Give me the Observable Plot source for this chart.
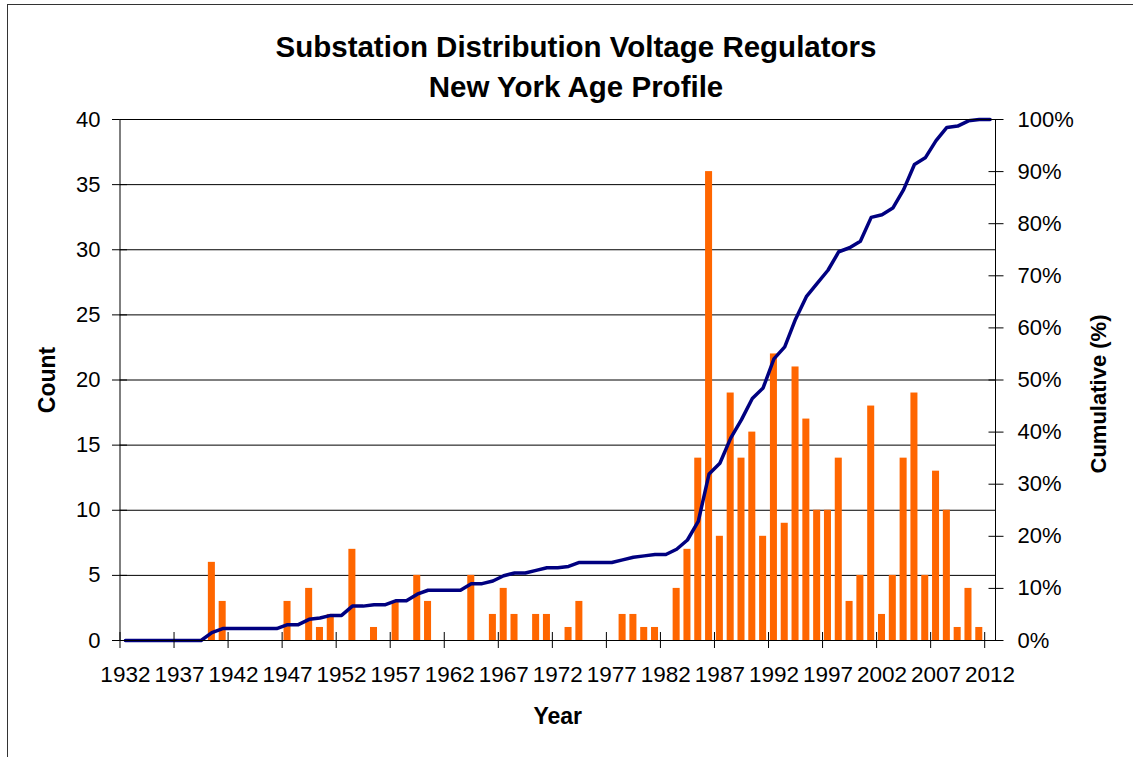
<!DOCTYPE html>
<html><head><meta charset="utf-8">
<script src="https://cdn.jsdelivr.net/npm/d3@7"></script>
<script src="https://cdn.jsdelivr.net/npm/@observablehq/plot@0.6"></script>
<style>
body{margin:0;background:#fff;}
#wrap{position:relative;width:1133px;height:757px;overflow:hidden;font-family:"Liberation Sans",Arial,sans-serif;}
#border{position:absolute;left:7px;top:4px;width:1300px;height:900px;border-top:1.5px solid #333;border-left:1.5px solid #333;}
#title{position:relative;height:105px;box-sizing:border-box;padding-top:27px;padding-left:19px;text-align:center;font-weight:bold;font-size:29.5px;line-height:40px;color:#000;}
#chart{position:relative;height:652px;}
</style></head><body>
<div id="wrap"><div id="border"></div>
<div id="title"><div>Substation Distribution Voltage Regulators</div><div>New York Age Profile</div></div>
<div id="chart"></div></div>
<script>
const years = [1932,1933,1934,1935,1936,1937,1938,1939,1940,1941,1942,1943,1944,1945,1946,1947,1948,1949,
1950,1951,1952,1953,1954,1955,1956,1957,1958,1959,1960,1961,1962,1963,1964,1965,1966,1967,1968,1969,
1970,1971,1972,1973,1974,1975,1976,1977,1978,1979,1980,1981,1982,1983,1984,1985,1986,1987,1988,1989,
1990,1991,1992,1993,1994,1995,1996,1997,1998,1999,2000,2001,2002,2003,2004,2005,2006,2007,2008,2009,
2010,2011,2012];
const counts = [0,0,0,0,0,0,0,0,6,3,0,0,0,0,0,3,0,4,
1,2,0,7,0,1,0,3,0,5,3,0,0,0,5,0,2,4,2,0,
2,2,0,1,3,0,0,0,2,2,1,1,0,4,7,14,36,8,19,14,
16,8,22,9,21,17,10,10,14,3,5,18,2,5,14,19,5,13,10,1,
4,1,0];
const countTicks = [0,5,10,15,20,25,30,35,40];
const pctTicks = [0,10,20,30,40,50,60,70,80,90,100];
const pctLabels = ["0%","10%","20%","30%","40%","50%","60%","70%","80%","90%","100%"];
const labelYears = [1932,1937,1942,1947,1952,1957,1962,1967,1972,1977,1982,1987,1992,1997,2002,2007,2012];

const W = 1133, H = 652, mL = 119.5, mR = 138, mT = 14, mB = 117;
const step = (W - mL - mR) / years.length;
const countMax = countTicks[countTicks.length - 1];
const total = d3.sum(counts);
const data = years.map((y, i) => ({year: y, count: counts[i]}));
let run = 0;
const cum = data.map(d => ({year: d.year, pct: (run += d.count) / total * 100}));
const pctToCount = p => p / 100 * countMax;
const pctLabelMap = new Map(pctTicks.map((p, i) => [pctToCount(p), pctLabels[i]]));
const font = "'Liberation Sans', Arial, sans-serif";

const chart = Plot.plot({
  width: W, height: H, marginLeft: mL, marginRight: mR, marginTop: mT, marginBottom: mB,
  style: {fontFamily: font, fontSize: "22px", color: "#000", background: "transparent", overflow: "visible"},
  x: {type: "band", domain: years, paddingInner: 0.35, paddingOuter: 0.175, axis: null},
  y: {domain: [0, countMax], axis: null},
  marks: [
    Plot.ruleY(countTicks, {stroke: "#000", strokeWidth: 1}),
    Plot.barY(data.filter(d => d.count > 0), {x: "year", y: "count", fill: "#FF6600"}),
    Plot.lineY(cum, {x: "year", y: d => pctToCount(d.pct), stroke: "#000080", strokeWidth: 3.5, strokeLinejoin: "round"}),
    Plot.frame({stroke: "#000"}),
    Plot.axisY(countTicks, {anchor: "left", tickSize: 7.5, tickPadding: 12, label: null}),
    Plot.axisY(countTicks, {anchor: "left", tickSize: -7.5, tickFormat: () => "", label: null}),
    Plot.axisY(pctTicks.map(pctToCount), {anchor: "right", tickSize: 7.5, tickPadding: 14.5, tickFormat: d => pctLabelMap.get(d), label: null}),
    Plot.axisY(pctTicks.map(pctToCount), {anchor: "right", tickSize: -7.5, tickFormat: () => "", label: null}),
    Plot.axisX(labelYears, {anchor: "bottom", tickSize: 0, tickPadding: 26, fontSize: 22.5, tickFormat: d => String(d), label: null}),
    Plot.ruleX(labelYears, {x: d => d, y1: 0, y2: 0, insetTop: -8, insetBottom: -8, dx: -step / 2, stroke: "#000"}),
    Plot.text(["Count"], {frameAnchor: "left", dx: -72, rotate: -90, textAnchor: "middle", lineAnchor: "middle", fontWeight: "bold", fontSize: 23}),
    Plot.text(["Year"], {frameAnchor: "bottom", dy: 76, textAnchor: "middle", lineAnchor: "middle", fontWeight: "bold", fontSize: 23}),
    Plot.text(["Cumulative (%)"], {frameAnchor: "right", dx: 103, dy: 14, rotate: -90, textAnchor: "middle", lineAnchor: "middle", fontWeight: "bold", fontSize: 22})
  ]
});
document.getElementById("chart").appendChild(chart);
</script>
</body></html>
